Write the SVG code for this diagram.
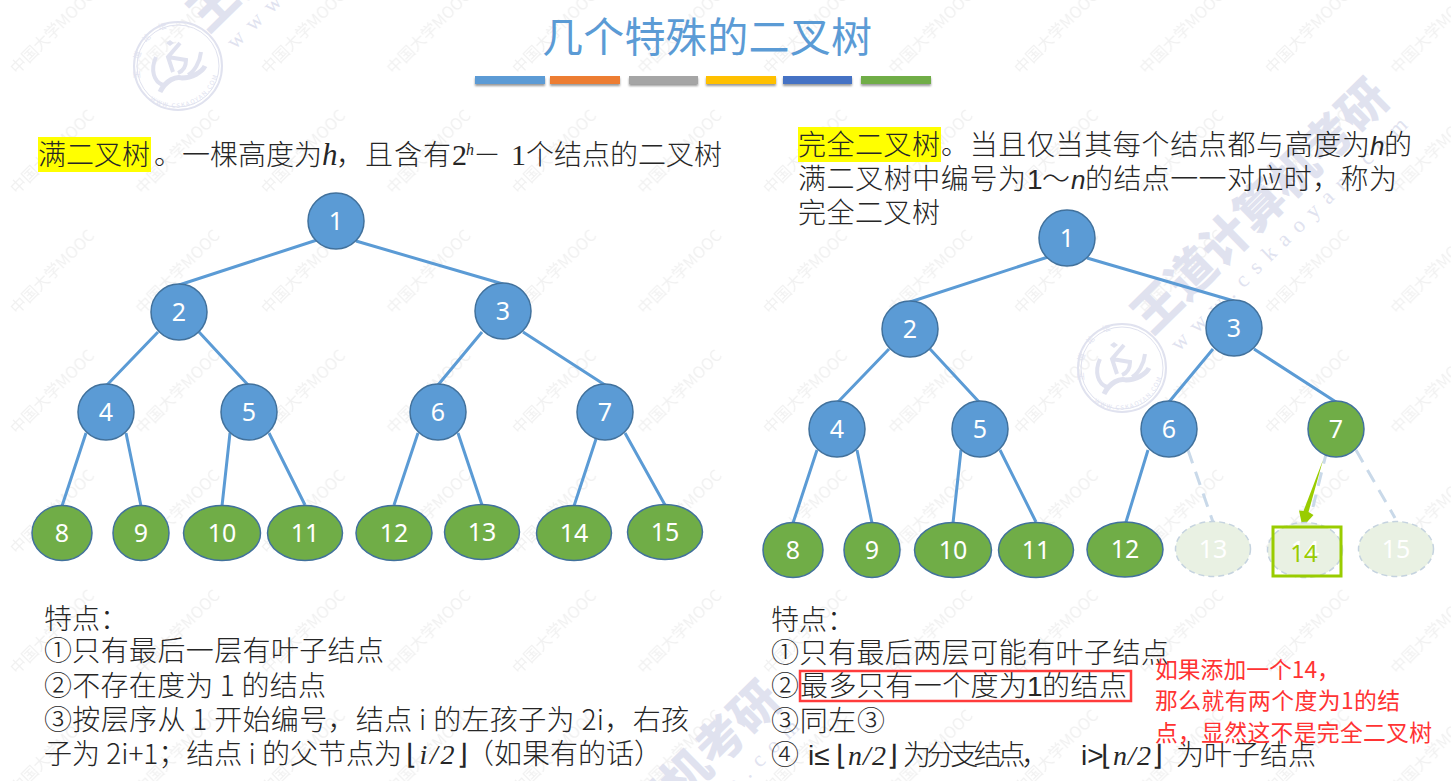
<svg xmlns="http://www.w3.org/2000/svg" width="1451" height="781" viewBox="0 0 1451 781">
<style>
text{font-family:"Noto Sans CJK SC","Noto Sans",sans-serif}
.t{font-size:28px;fill:#262626;font-weight:300}
.m{font-family:"Liberation Serif","Noto Sans CJK SC",serif;font-style:italic}
.i{font-family:"Liberation Sans","Noto Sans CJK SC",sans-serif;font-style:italic}
.br{font-family:"DejaVu Sans",sans-serif;font-style:normal}
.n{font-family:"Noto Sans",sans-serif;font-size:25px;fill:#fff;text-anchor:middle}
.b{fill:#5b9bd5;stroke:#41719c;stroke-width:1.5}
.g{fill:#70ad47;stroke:#41719c;stroke-width:1.5}
.ghost{fill:#e9f1e3;stroke:#c5d3df;stroke-width:1.5;stroke-dasharray:6 4}
.e{stroke:#5b9bd5;stroke-width:3;fill:none}
.d{stroke:#c9d9e9;stroke-width:3;stroke-dasharray:14 9;fill:none}
.r{font-size:22.8px;fill:#ff3333}
.wm{font-size:16px;fill:#f1f1f1;font-family:"Noto Sans CJK SC",sans-serif}
.big{font-size:48px;font-weight:900;fill:#e0e2ef}
.www{font-family:"Liberation Serif",serif;font-size:22px;fill:#e0e2ef}
.lg{fill:none;stroke:#e0e2ef}
</style>
<defs>
<filter id="sh" x="-5%" y="-30%" width="110%" height="180%"><feDropShadow dx="0" dy="2" stdDeviation="1" flood-color="#000" flood-opacity=".4"/></filter>
<pattern id="wmp" patternUnits="userSpaceOnUse" width="125.5" height="120" x="0" y="-45">
<text class="wm" transform="translate(17,120) rotate(-45)">中国大学MOOC</text>
</pattern>
<path id="arcT" d="M-37 12A39 39 0 0 1 24 -31"/>
<path id="arcB" d="M-28 34A44 44 0 0 0 39 -15"/>
<g id="logo">
<circle class="lg" r="44" stroke-width="2"/>
<circle class="lg" r="41" stroke-width="1"/>
<path class="lg" stroke-width="4" d="M-22 -9C-28 4 -24 16 -15 19"/>
<path class="lg" stroke-width="5" d="M-18 26C-12 14 -2 10 4 12C14 12 24 6 27 0"/>
<path class="lg" stroke-width="4" d="M2 -23L-10 -9L-5 6M-10 -9L8 -6C8 0 5 5 0 7M23 -14C22 -4 16 6 10 9"/>
<path d="M-8 -26L-4 -23L-8 -20L-12 -23Z" fill="#e0e2ef"/>
<text font-size="8" fill="#e0e2ef"><textPath href="#arcT" letter-spacing="10">王道论坛</textPath></text>
<text font-size="6" fill="#e0e2ef" font-family="Liberation Sans"><textPath href="#arcB" letter-spacing="1.4">WWW.CSKAOYAN.COM</textPath></text>
</g>
<g id="brand">
<text class="big" transform="translate(1152,336) rotate(-44.500)">王道计算机考研</text>
<text class="www" transform="translate(1179,352) rotate(-44.500)" textLength="322" lengthAdjust="spacing">www.cskaoyan.com</text>
<use href="#logo" x="1122" y="368"/>
</g>
</defs>
<rect width="1451" height="781" fill="#fff"/>
<g id="watermark">
<rect width="1451" height="781" fill="url(#wmp)"/>
<use href="#brand"/>
<use href="#brand" x="-944" y="-302"/>
<use href="#brand" x="-608" y="602"/>
</g>

<g id="title">
<text x="542" y="52" font-size="41" fill="#5b9bd5" textLength="330" lengthAdjust="spacing">几个特殊的二叉树</text>
<g filter="url(#sh)">
<rect x="475" y="76" width="70" height="8" fill="#5b9bd5"/>
<rect x="550" y="76" width="70" height="8" fill="#ed7d31"/>
<rect x="629" y="76" width="69" height="8" fill="#a5a5a5"/>
<rect x="706" y="76" width="70" height="8" fill="#ffc000"/>
<rect x="783" y="76" width="69" height="8" fill="#4472c4"/>
<rect x="861" y="76" width="70" height="8" fill="#70ad47"/>
</g>
</g>

<g id="left-heading">
<rect x="38" y="137" width="113" height="35" fill="#ffff00"/>
<text class="t" x="38" y="165" textLength="112" lengthAdjust="spacing">满二叉树</text>
<text class="t" x="154" y="165" textLength="168" lengthAdjust="spacing">。一棵高度为</text>
<text class="t m" x="322" y="165" style="font-size:31px">h</text>
<text class="t" x="336" y="165" textLength="115" lengthAdjust="spacing">，且含有</text>
<text class="t m" x="452" y="165" style="font-style:normal;font-size:30px">2</text>
<text class="m" x="466" y="155" font-size="16" fill="#262626">h</text>
<text class="t" x="473" y="165">－</text>
<text class="t m" x="511" y="165" style="font-style:normal;font-size:30px">1</text>
<text class="t" x="526" y="165" textLength="196" lengthAdjust="spacing">个结点的二叉树</text>
</g>

<g id="right-heading">
<rect x="798" y="127" width="143" height="35" fill="#ffff00"/>
<text class="t" x="798" y="155" textLength="142" lengthAdjust="spacing">完全二叉树</text>
<text class="t" x="941" y="155" textLength="429" lengthAdjust="spacing">。当且仅当其每个结点都与高度为</text>
<text class="t i" x="1370" y="155" style="font-size:26px">h</text>
<text class="t" x="1384" y="155">的</text>
<text class="t" x="798" y="189" textLength="228" lengthAdjust="spacing">满二叉树中编号为</text>
<text class="t" x="1027" y="189" style="font-family:'Liberation Sans'">1</text>
<text class="t" x="1042" y="189">～</text>
<text class="t i" x="1071" y="189" style="font-size:26px">n</text>
<text class="t" x="1085" y="189" textLength="312" lengthAdjust="spacing">的结点一一对应时，称为</text>
<text class="t" x="798" y="223" textLength="142" lengthAdjust="spacing">完全二叉树</text>
</g>

<g id="connectors">
<path class="e" d="M317 240L179 285M356 241L503 284M158 332L106 386M199 332L249 386M482 332L438 385M523 332L605 385M86 433L62 506M126 433L141 506M230 433L222 506M269 433L305 505M418 433L394 505M458 433L482 505M596 439L574 506M625 433L665 505"/>
<path class="e" d="M1048 257L910 302M1087 258L1234 301M889 349L837 403M930 349L980 403M1213 349L1169 402M1254 349L1336 402M817 450L793 523M857 450L872 523M961 450L953 523M1000 450L1036 522M1148 450L1126 522"/>
<path class="d" d="M1188 450L1213 522M1327 450L1313 507M1356 450L1395 518"/>
<path fill="#99cc00" d="M1323 460L1308.5 512L1313.5 515L1302.5 527L1299 510.5L1303.5 511Z"/>
</g>

<g id="l1"><circle class="b" cx="336" cy="221" r="28"/><text class="n" x="336" y="230">1</text></g>
<g id="l2"><circle class="b" cx="179" cy="312" r="28"/><text class="n" x="179" y="321">2</text></g>
<g id="l3"><circle class="b" cx="503" cy="311" r="28"/><text class="n" x="503" y="320">3</text></g>
<g id="l4"><circle class="b" cx="106" cy="412" r="28"/><text class="n" x="106" y="421">4</text></g>
<g id="l5"><circle class="b" cx="249" cy="412" r="28"/><text class="n" x="249" y="421">5</text></g>
<g id="l6"><circle class="b" cx="438" cy="412" r="28"/><text class="n" x="438" y="421">6</text></g>
<g id="l7"><circle class="b" cx="605" cy="412" r="28"/><text class="n" x="605" y="421">7</text></g>
<g id="l8"><ellipse class="g" cx="62" cy="533" rx="30" ry="27.5"/><text class="n" x="62" y="542">8</text></g>
<g id="l9"><ellipse class="g" cx="141" cy="533" rx="28" ry="27.5"/><text class="n" x="141" y="542">9</text></g>
<g id="l10"><ellipse class="g" cx="222" cy="533" rx="38.5" ry="27.5"/><text class="n" x="222" y="542">10</text></g>
<g id="l11"><ellipse class="g" cx="305" cy="533" rx="37.5" ry="27.5"/><text class="n" x="305" y="542">11</text></g>
<g id="l12"><ellipse class="g" cx="394" cy="533" rx="38" ry="27.5"/><text class="n" x="394" y="542">12</text></g>
<g id="l13"><ellipse class="g" cx="482" cy="532" rx="37.5" ry="27.5"/><text class="n" x="482" y="541">13</text></g>
<g id="l14"><ellipse class="g" cx="574" cy="533" rx="37.5" ry="27.5"/><text class="n" x="574" y="542">14</text></g>
<g id="l15"><ellipse class="g" cx="665" cy="532" rx="37.5" ry="27.5"/><text class="n" x="665" y="541">15</text></g>

<g id="r1"><circle class="b" cx="1067" cy="238" r="28"/><text class="n" x="1067" y="247">1</text></g>
<g id="r2"><circle class="b" cx="910" cy="329" r="28"/><text class="n" x="910" y="338">2</text></g>
<g id="r3"><circle class="b" cx="1234" cy="328" r="28"/><text class="n" x="1234" y="337">3</text></g>
<g id="r4"><circle class="b" cx="837" cy="429" r="28"/><text class="n" x="837" y="438">4</text></g>
<g id="r5"><circle class="b" cx="980" cy="429" r="28"/><text class="n" x="980" y="438">5</text></g>
<g id="r6"><circle class="b" cx="1169" cy="429" r="28"/><text class="n" x="1169" y="438">6</text></g>
<g id="r7"><circle class="g" cx="1336" cy="429" r="28"/><text class="n" x="1336" y="438">7</text></g>
<g id="r8"><ellipse class="g" cx="793" cy="550" rx="30" ry="27.5"/><text class="n" x="793" y="559">8</text></g>
<g id="r9"><ellipse class="g" cx="872" cy="550" rx="28" ry="27.5"/><text class="n" x="872" y="559">9</text></g>
<g id="r10"><ellipse class="g" cx="953" cy="550" rx="38.5" ry="27.5"/><text class="n" x="953" y="559">10</text></g>
<g id="r11"><ellipse class="g" cx="1036" cy="550" rx="37.5" ry="27.5"/><text class="n" x="1036" y="559">11</text></g>
<g id="r12"><ellipse class="g" cx="1125" cy="549.500" rx="38" ry="27.5"/><text class="n" x="1125" y="558">12</text></g>
<g id="r13"><ellipse class="ghost" cx="1213" cy="549" rx="37.5" ry="27.5"/><text class="n" x="1213" y="558">13</text></g>
<g id="r14"><ellipse class="ghost" cx="1305" cy="550" rx="37.5" ry="27.5"/><text class="n" x="1305" y="559">14</text>
<rect x="1273" y="527" width="68" height="49" fill="none" stroke="#99cc00" stroke-width="3"/>
<text class="n" x="1304" y="562" style="fill:#99cc00;font-size:24px">14</text></g>
<g id="r15"><ellipse class="ghost" cx="1396" cy="549" rx="37.5" ry="27.5"/><text class="n" x="1396" y="558">15</text></g>

<g id="left-notes">
<text class="t" x="44" y="629" textLength="84" lengthAdjust="spacing">特点：</text>
<text class="t" x="44" y="661" textLength="340" lengthAdjust="spacing">①只有最后一层有叶子结点</text>
<text class="t" x="44" y="696" textLength="282" lengthAdjust="spacing">②不存在度为 1 的结点</text>
<text class="t" x="44" y="730" textLength="645" lengthAdjust="spacing">③按层序从 1 开始编号，结点 i 的左孩子为 2i，右孩</text>
<text class="t" x="44" y="764" textLength="358" lengthAdjust="spacing">子为 2i+1；结点 i 的父节点为</text>
<text class="t m" x="406" y="764" textLength="62" lengthAdjust="spacing"><tspan class="br">⌊</tspan>i/2<tspan class="br">⌋</tspan></text>
<text class="t" x="466" y="764" textLength="196" lengthAdjust="spacing">（如果有的话）</text>
</g>

<g id="right-notes">
<text class="t" x="771" y="630" textLength="84" lengthAdjust="spacing">特点：</text>
<text class="t" x="771" y="663" textLength="398" lengthAdjust="spacing">①只有最后两层可能有叶子结点</text>
<text class="t" x="771" y="696">②</text>
<text class="t" x="800" y="696" textLength="227" lengthAdjust="spacing">最多只有一个度为</text>
<text class="t" x="1027" y="696" style="font-family:'Liberation Sans'">1</text>
<text class="t" x="1042" y="696" textLength="85" lengthAdjust="spacing">的结点</text>
<rect x="800" y="671" width="331" height="30" fill="none" stroke="#ff3b3b" stroke-width="2.5"/>
<text class="t" x="771" y="731" textLength="114" lengthAdjust="spacing">③同左③</text>
<text class="t" x="771" y="765">④</text>
<text class="t" x="808" y="765" style="font-family:'Liberation Sans'">i≤</text>
<text class="t m" x="836" y="765" textLength="62" lengthAdjust="spacing"><tspan class="br">⌊</tspan>n/2<tspan class="br">⌋</tspan></text>
<text class="t" x="903" y="765" textLength="146" lengthAdjust="spacing">为分支结点，</text>
<text class="t" x="1081" y="765" style="font-family:'Liberation Sans'">i&gt;</text>
<text class="t m" x="1101" y="765" textLength="62" lengthAdjust="spacing"><tspan class="br">⌊</tspan>n/2<tspan class="br">⌋</tspan></text>
<text class="t" x="1176" y="765" textLength="140" lengthAdjust="spacing">为叶子结点</text>
</g>

<g id="red-note">
<text class="r" x="1155" y="678">如果添加一个14，</text>
<text class="r" x="1155" y="709" textLength="245" lengthAdjust="spacing">那么就有两个度为1的结</text>
<text class="r" x="1155" y="741" textLength="277" lengthAdjust="spacing">点，显然这不是完全二叉树</text>
</g>
</svg>
